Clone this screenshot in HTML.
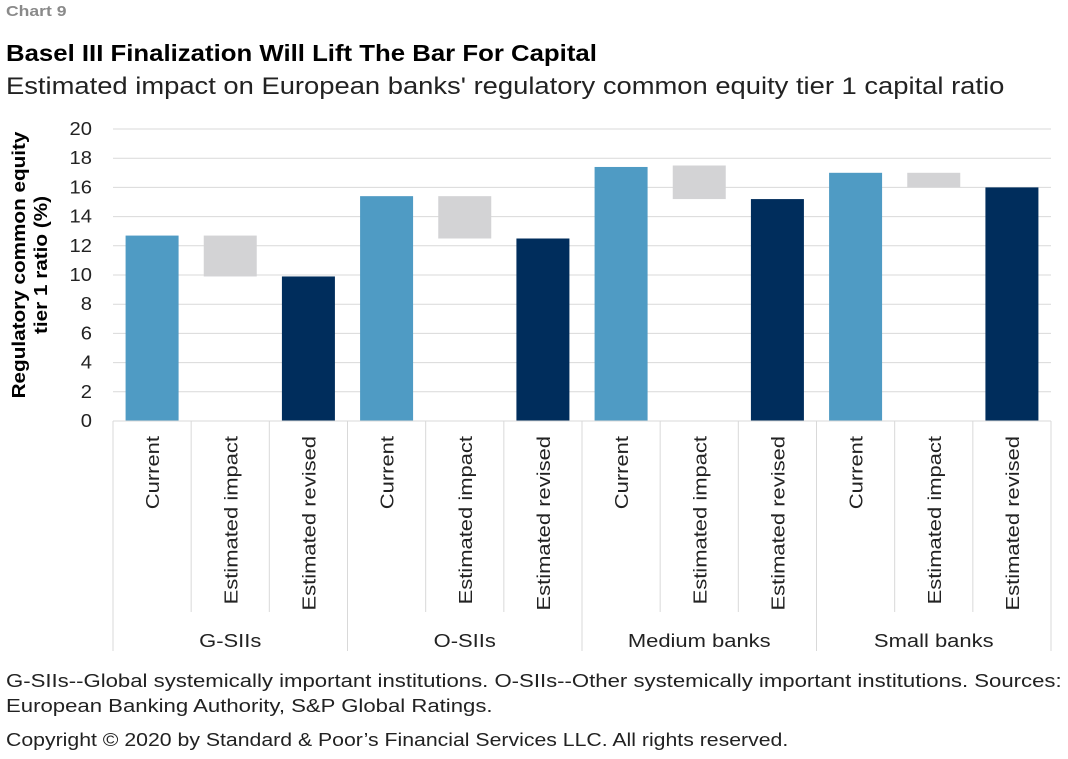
<!DOCTYPE html>
<html><head><meta charset="utf-8"><style>
body{margin:0;background:#fff;font-family:"Liberation Sans",sans-serif;}
.t{position:absolute;left:6px;white-space:nowrap;transform-origin:0 0;}
</style></head><body>
<div style="position:relative;width:1068px;height:759px;overflow:hidden">
<div class="t" style="top:3px;font-size:15px;font-weight:bold;color:#8a8a8a;transform:scaleX(1.17)">Chart 9</div>
<div class="t" style="top:40px;font-size:23px;font-weight:bold;color:#000;transform:scaleX(1.12)">Basel III Finalization Will Lift The Bar For Capital</div>
<div class="t" style="top:73px;font-size:24px;color:#222;transform:scaleX(1.14)">Estimated impact on European banks' regulatory common equity tier 1 capital ratio</div>
<svg id="c" width="1068" height="759" style="position:absolute;left:0;top:0"></svg>
<div class="t" style="top:669px;font-size:18px;color:#222;line-height:25px;transform:scaleX(1.23)">G-SIIs--Global systemically important institutions. O-SIIs--Other systemically important institutions. Sources:<br>European Banking Authority, S&amp;P Global Ratings.</div>
<div class="t" style="top:730px;font-size:18px;color:#222;transform:scaleX(1.18)">Copyright © 2020 by Standard &amp; Poor’s Financial Services LLC. All rights reserved.</div>
</div>
<script>
const groups=["G-SIIs","O-SIIs","Medium banks","Small banks"];
const subcats=["Current","Estimated impact","Estimated revised"];
const current=[12.7,15.4,17.4,17.0];
const revised=[9.9,12.5,15.2,16.0];
const impactTop=[12.7,15.4,17.5,17.0];
const impactBottom=[9.9,12.5,15.2,16.0];
const yTicks=[0,2,4,6,8,10,12,14,16,18,20];
const NS="http://www.w3.org/2000/svg",svg=document.getElementById('c');
const X0=113,X1=1051,Y0=421,Y1=129,slot=(X1-X0)/12,bw=53;
const y=v=>Y0-(v/20)*(Y0-Y1);
const sx=i=>X0+slot*(i+0.5);
function mk(t,a){const e=document.createElementNS(NS,t);for(const k in a)e.setAttribute(k,a[k]);svg.appendChild(e);return e;}
function widen(t,f){const w=t.getComputedTextLength();t.setAttribute('textLength',w*f);t.setAttribute('lengthAdjust','spacingAndGlyphs');}
yTicks.forEach(v=>{
 const g=mk('line',{x1:X0,x2:X1,y1:y(v),y2:y(v),stroke:'#d9d9d9','stroke-width':1});
 
 
 const t=mk('text',{x:92,y:y(v)+6,'text-anchor':'end','font-size':18,fill:'#222'});
 t.textContent=v;
 
 
 widen(t,1.12);
});
const yt=mk('text',{transform:'translate(29,265) rotate(-90)','text-anchor':'middle','font-size':18,'font-weight':'bold',fill:'#000'});


yt.innerHTML='<tspan x="0" dy="-4">Regulatory common equity</tspan><tspan x="0" dy="22">tier 1 ratio (%)</tspan>';
yt.querySelectorAll('tspan').forEach(s=>widen(s,1.15));
groups.forEach((gname,g)=>{
 const i0=g*3;
 let r=mk('rect',{x:sx(i0)-bw/2,y:y(current[g]),width:bw,height:y(0)-y(current[g]),fill:'#4f9bc4'});
 
 
 r=mk('rect',{x:sx(i0+1)-bw/2,y:y(impactTop[g]),width:bw,height:y(impactBottom[g])-y(impactTop[g]),fill:'#d3d3d5'});
 
 
 r=mk('rect',{x:sx(i0+2)-bw/2,y:y(revised[g]),width:bw,height:y(0)-y(revised[g]),fill:'#002d5c'});
 
 
 subcats.forEach((s,k)=>{
  const t=mk('text',{transform:`translate(${sx(i0+k)+7},436) rotate(-90)`,'text-anchor':'end','font-size':18,fill:'#222'});
  t.textContent=s;
  
  
  widen(t,1.22);
 });
 const gl=mk('text',{x:X0+slot*(i0+1.5),y:647,'text-anchor':'middle','font-size':18,fill:'#222'});
 gl.textContent=gname;
 
 
 widen(gl,1.22);
});
for(let i=0;i<=12;i++){
 const xx=X0+slot*i;
 const l=mk('line',{x1:xx,x2:xx,y1:Y0,y2:i%3===0?651:612,stroke:'#d9d9d9','stroke-width':1});
 
 
}
const ax=mk('line',{x1:X0,x2:X1,y1:Y0,y2:Y0,stroke:'#d9d9d9','stroke-width':1});


</script>
</body></html>
